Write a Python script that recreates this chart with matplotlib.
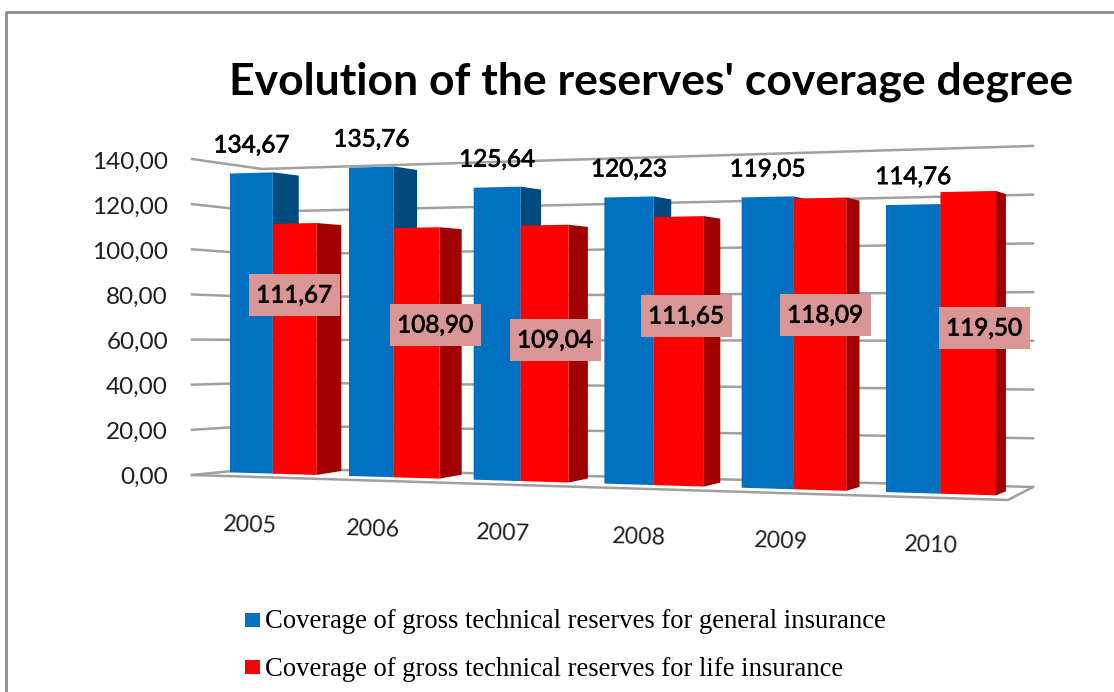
"""
plot.py
Evolution of the reserves' coverage degree, barras con perspectiva a mano.
"""
import matplotlib
matplotlib.use("Agg")
import matplotlib.pyplot as plt
import matplotlib.patheffects as pe
from matplotlib.patches import Rectangle

YEARS = ["2005", "2006", "2007", "2008", "2009", "2010"]
GENERAL = [134.67, 135.76, 125.64, 120.23, 119.05, 114.76]
LIFE = [111.67, 108.90, 109.04, 111.65, 118.09, 119.50]
TICKS = [0, 20, 40, 60, 80, 100, 120, 140]

TITLE = "Evolution of the reserves' coverage degree"
LEGEND = ["Coverage of gross technical reserves for general insurance",
          "Coverage of gross technical reserves for life insurance"]

# donde se movieron a mano las etiquetas de life (px)
LIFE_LABEL_POS = [(294, 295), (435, 325), (555, 340), (686, 316), (825, 315), (984, 328)]

BLUE, BLUE_SIDE = "#0070C0", "#004A7F"
RED, RED_SIDE = "#FF0000", "#A00000"
GRID = "#A0A0A0"
BAR_W = 0.365

# Lato no tiene peso medio aqui, se engorda un poco con un trazo
THICK = [pe.withStroke(linewidth=0.5, foreground="black")]


def fmt(v):
    return f"{v:.2f}".replace(".", ",")


def cat_x(c):
    return 230 + 116.3 * c / (1 - 0.0227 * c)


def base_y(x):
    return 473 + 0.03 * (x - 251)


def scale(x):
    return 2.228 + 0.000429 * (x - 251)


def front_y(x, v):
    return base_y(x) - scale(x) * v


def wall_y(x, v):
    t = (x - 262) / 771
    return 468 + 19 * t - (2.136 + 0.300 * t) * v


def draw_bar(ax, c, v, front, side):
    x0, x1 = cat_x(c), cat_x(c + BAR_W)
    dx = 0.0222 * (1442 - x1)
    h = scale(x1) * v
    ax.fill([x1, x1 + dx, x1 + dx, x1],
            [base_y(x1), base_y(x1) - 4, base_y(x1) - 4 - h * 0.976, base_y(x1) - h],
            color=side, lw=0, zorder=3 + c * 0.01)
    ax.fill([x0, x1, x1, x0],
            [base_y(x0), base_y(x1), front_y(x1, v), front_y(x0, v)],
            color=front, lw=0, zorder=3 + c * 0.01)


fig = plt.figure(figsize=(11.14, 6.92), dpi=100)
ax = fig.add_axes([0, 0, 1, 1])
ax.set_xlim(0, 1114)
ax.set_ylim(692, 0)
ax.axis("off")

# marco del grafico (sin borde derecho, queda recortado)
ax.plot([6, 6, 1114], [692, 12, 12], color="#8C8C8C", lw=2, zorder=1)

# paredes y suelo
for v in TICKS:
    ax.plot([192, 262, 1033], [475 - 2.257 * v, wall_y(262, v), wall_y(1033, v)],
            color=GRID, lw=1.8, zorder=2)
    ax.text(168, 477 - 2.247 * v, fmt(v), ha="right", va="center", fontsize=17.5,
            family="Lato", color="#1F1F1F", zorder=6)
ax.plot([192, 1008, 1033], [475, 500, 487], color=GRID, lw=1.8, zorder=2)

for i, (year, g, l) in enumerate(zip(YEARS, GENERAL, LIFE)):
    draw_bar(ax, i, g, BLUE, BLUE_SIDE)
    draw_bar(ax, i + BAR_W, l, RED, RED_SIDE)

    xm = cat_x(i + BAR_W / 2)
    ax.text(xm, front_y(xm, g) - 27, fmt(g), ha="center", va="center", fontsize=17.5,
            family="Lato", color="black", path_effects=THICK, zorder=7)

    lx, ly = LIFE_LABEL_POS[i]
    ax.add_patch(Rectangle((lx - 45.5, ly - 21), 91, 42, fc="#D99694", ec="none", zorder=6))
    ax.text(lx, ly + 1, fmt(l), ha="center", va="center", fontsize=17.5,
            family="Lato", color="black", path_effects=THICK, zorder=7)

    xb = cat_x(i + BAR_W)
    ax.text(xb - (23 - 2.6 * i), base_y(xb) + 52, year, ha="center", va="center",
            fontsize=16.7, family="Lato", color="#1F1F1F", rotation=-2, zorder=6)

ax.text(651, 82, TITLE, ha="center", va="center", fontsize=32, family="Lato",
        fontweight="bold", color="black")

for y, color, label in zip([620, 667], [BLUE, RED], LEGEND):
    ax.add_patch(Rectangle((245, y - 7), 15, 14, fc=color, ec="none"))
    ax.text(265, y + 2, label, ha="left", va="center", fontsize=19.2,
            family="Liberation Serif", color="black")

fig.savefig("out.png", dpi=100)
plt.close(fig)
